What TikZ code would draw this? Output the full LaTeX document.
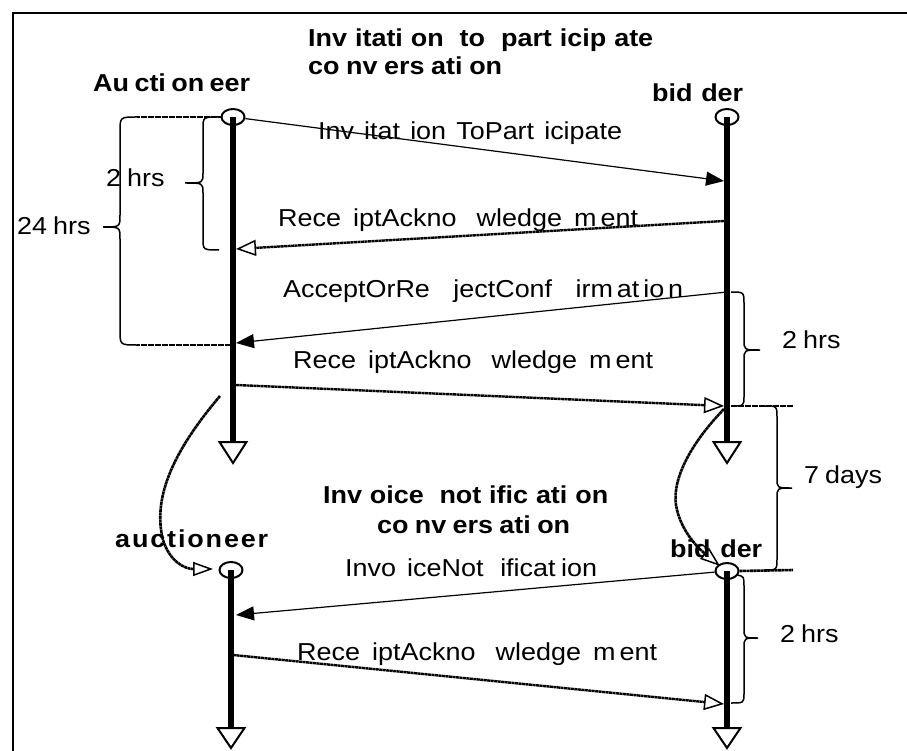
\documentclass[tikz,border=0pt]{standalone}
\usepackage{fontspec}
\setmainfont{Liberation Sans}[FakeStretch=1.1]
\usetikzlibrary{arrows.meta,shapes.geometric}
\newcommand\gp[1]{\hspace{0pt plus #1fil}}
\newcommand\fitw[2]{\makebox[#1pt][s]{#2}}
\begin{document}
\begin{tikzpicture}[x=1pt,y=-1pt,
  lbl/.style={inner sep=0pt, anchor=base west, font=\fontsize{24.5}{28}\selectfont},
  bld/.style={inner sep=0pt, anchor=base west, font=\fontsize{24.5}{28}\selectfont\bfseries},
  life/.style={line width=6pt},
  head/.style={draw, ellipse, line width=2pt, minimum width=23pt, minimum height=16pt, inner sep=0pt},
  endtri/.style={draw, line width=2pt, fill=white, line join=miter},
  msg/.style={line width=1.2pt, -{Triangle[length=18pt,width=14pt]}},
  ack/.style={line width=2.4pt, dash pattern=on 3pt off 0.5pt, -{Triangle[open,length=20pt,width=16pt,line width=1.5pt]}},
  curvarrow/.style={-{Triangle[open,length=20pt,width=14pt,line width=1.5pt]}},
  brace/.style={line width=1.5pt},
  dotl/.style={line width=2.6pt, dash pattern=on 3pt off 0.5pt},
]
\useasboundingbox (0,0) rectangle (907,751);
% frame
\draw[line width=2.5pt] (13,760) -- (13,13) -- (915,13);

% titles and participants
\node[bld] (t1a) at (308,47) {\fitw{345}{Inv\gp1itati\gp1on\gp2to\gp2part\gp1icip\gp1ate}};
\node[bld] (t1b) at (308,75) {\fitw{194}{co\gp1nv\gp1ers\gp1ati\gp1on}};
\node[bld] (pa1) at (93,92) {\fitw{157}{Au\gp1cti\gp1on\gp1eer}};
\node[bld] (pb1) at (652,102) {\fitw{91}{bid\gp1der}};
\node[bld] (t2a) at (323,503) {\fitw{285}{Inv\gp1oice\gp2not\gp1ific\gp1ati\gp1on}};
\node[bld] (t2b) at (377,533) {\fitw{193}{co\gp1nv\gp1ers\gp1ati\gp1on}};
\node[bld] (pa2) at (115,547) {\fitw{153}{a\gp1u\gp1c\gp1t\gp1i\gp1o\gp1n\gp1e\gp1e\gp1r}};
\node[bld] (pb2) at (670,557) {\fitw{92}{bid\gp1der}};

% lifeline heads
\node[head] (A1) at (233,117) {};
\node[head] (B1) at (727,117) {};
\node[head] (A2) at (231,570) {};
\node[head] (B2) at (727,571) {};
\coordinate (A1end) at (233,442);
\coordinate (B1end) at (727,442);
\coordinate (A2end) at (231,728);
\coordinate (B2end) at (727,728);

% lifelines
\draw[life] (A1.center) -- (A1end);
\draw[life] (B1.center) -- (B1end);
\draw[life] (A2.center) -- (A2end);
\draw[life] (B2.center) -- (B2end);
\draw[endtri] (A1end) ++(-13.5,0) -- ++(27,0) -- ++(-13.5,21) -- cycle;
\draw[endtri] (B1end) ++(-13.5,0) -- ++(27,0) -- ++(-13.5,21) -- cycle;
\draw[endtri] (A2end) ++(-13.5,0) -- ++(27,0) -- ++(-13.5,20) -- cycle;
\draw[endtri] (B2end) ++(-13.5,0) -- ++(27,0) -- ++(-13.5,20) -- cycle;

% messages
\coordinate (m1b) at (724,181);
\draw[msg] (A1) -- (m1b);
\coordinate (m2b) at (724,221); \coordinate (m2a) at (236,249);
\draw[ack] (m2b) -- (m2a);
\coordinate (m3b) at (727,292); \coordinate (m3a) at (236,343);
\draw[msg] (m3b) -- (m3a);
\coordinate (m4a) at (236,385); \coordinate (m4b) at (724,406);
\draw[ack] (m4a) -- (m4b);
\coordinate (m5a) at (236,615);
\draw[msg] (B2) -- (m5a);
\coordinate (m6a) at (233,655); \coordinate (m6b) at (724,704);
\draw[ack] (m6a) -- (m6b);

% message labels
\node[lbl] (l1) at (318,140) {\fitw{304}{Inv\gp1itat\gp1ion\gp1ToPart\gp1icipate}};
\node[lbl] (l2) at (278,227) {\fitw{360}{Rece\gp3iptAckno\gp5wledge\gp3m\gp1ent}};
\node[lbl] (l3) at (283,297) {\fitw{400}{AcceptOrRe\gp6jectConf\gp6irm\gp1at\gp1io\gp1n}};
\node[lbl] (l4) at (293,368) {\fitw{360}{Rece\gp3iptAckno\gp5wledge\gp3m\gp1ent}};
\node[lbl] (l5) at (345,576) {\fitw{252}{Invo\gp2iceNot\gp3ificat\gp1ion}};
\node[lbl] (l6) at (297,660) {\fitw{360}{Rece\gp3iptAckno\gp5wledge\gp3m\gp1ent}};

% time guides (dotted)
\coordinate (g24t) at (137,117);
\coordinate (g24b) at (137,345);
\coordinate (a1c) at (233,345);
\draw[dotl] (g24t) -- (A1.west);
\draw[dotl] (g24b) -- (a1c);
\coordinate (r7t) at (793,406);
\coordinate (r7b) at (793,570);
\coordinate (b1g) at (727,406);
\draw[dotl] (b1g) -- (r7t);
\draw[dotl] (B2.east) -- (r7b);

% braces
\draw[brace] (g24t) .. controls (120,117) .. (120,132) -- (120,215)
  .. controls (120,227) .. (103,227) .. controls (120,227) .. (120,239)
  -- (120,330) .. controls (120,345) .. (g24b);
\draw[brace] (219,117) .. controls (203,117) .. (203,129) -- (203,173)
  .. controls (203,183) .. (185,183) .. controls (203,183) .. (203,193)
  -- (203,238) .. controls (203,250) .. (219,250);
\draw[brace] (731,292) .. controls (744,292) .. (744,304) -- (744,340)
  .. controls (744,350) .. (760,350) .. controls (744,350) .. (744,360)
  -- (744,396) .. controls (744,406) .. (731,406);
\draw[brace] (765,406) .. controls (777,406) .. (777,418) -- (777,478)
  .. controls (777,488) .. (792,488) .. controls (777,488) .. (777,498)
  -- (777,558) .. controls (777,570) .. (765,570);
\draw[brace] (736,575) .. controls (744,576) .. (744,588) -- (744,628)
  .. controls (744,638) .. (758,638) .. controls (744,638) .. (744,648)
  -- (744,693) .. controls (744,703) .. (731,703);

% brace labels
\node[lbl] (h1) at (106,187) {2\hspace{6pt}hrs};
\node[lbl] (h2) at (17,235) {24\hspace{6pt}hrs};
\node[lbl] (h3) at (782,348) {2\hspace{6pt}hrs};
\node[lbl] (h4) at (804,483) {7\hspace{6pt}days};
\node[lbl] (h5) at (780,642) {2\hspace{6pt}hrs};

% continuation arrows
\coordinate (c1s) at (220,396); \coordinate (c1e) at (213,569);
\draw[dotl, curvarrow] (c1s) .. controls (170,455) and (153,500) .. (163,540)
  .. controls (170,562) and (185,569) .. (c1e);
\coordinate (c2s) at (724,409); \coordinate (c2e) at (720,566);
\draw[dotl, curvarrow] (c2s) .. controls (692,442) and (672,478) .. (676,505)
  .. controls (680,530) and (698,548) .. (c2e);
\end{tikzpicture}
\end{document}
